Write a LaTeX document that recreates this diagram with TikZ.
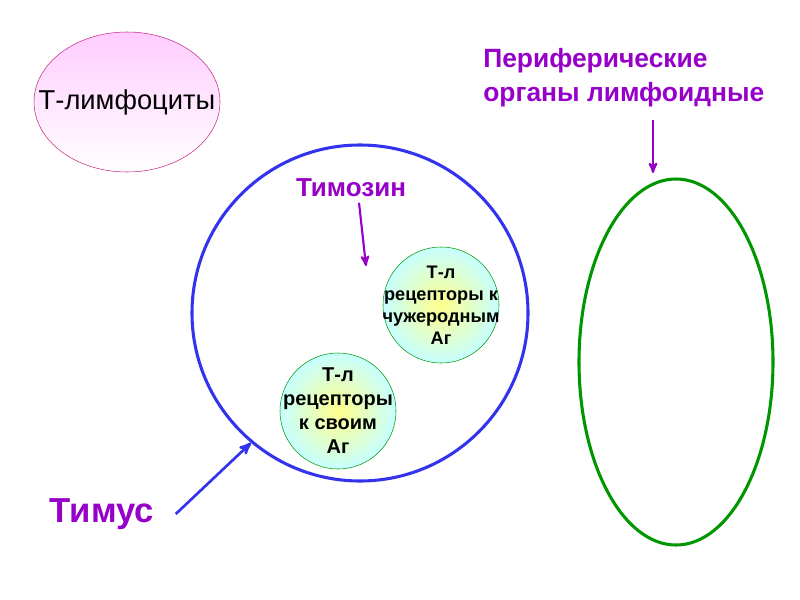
\documentclass[tikz,border=0pt]{standalone}
\usepackage{fontspec}
\setmainfont{Liberation Sans}
\usetikzlibrary{positioning,shapes,arrows}
\definecolor{lilac}{RGB}{150,0,200}
\definecolor{thyblue}{RGB}{51,51,238}
\definecolor{orggreen}{RGB}{0,150,0}
\tikzset{
        >=stealth', % arrow heads
        title/.style={text=lilac, font=\bfseries}, % violet headings
        cell/.style={circle, draw=green!60!black, thin, inner color=yellow!45, outer color=cyan!22,
                     minimum size=87pt, inner sep=0pt},
        celltext/.style={align=center, inner sep=0pt},
        pointer/.style={->, line width=1.6pt},
}
\begin{document}
\begin{tikzpicture}[x=0.75pt,y=-0.75pt]
\useasboundingbox (0,0) rectangle (800,600);
% cells
\node[ellipse, draw=magenta!80!black, thin, top color=magenta!20, bottom color=white,
      minimum width=139.5pt, minimum height=105pt, inner sep=0pt] (tcells) at (127,102) {};
\node[font=\fontsize{20.5}{25}\selectfont] at (tcells) {Т-лимфоциты};
\node[circle, draw=thyblue, line width=2.3pt, minimum size=252pt] (thymus) at (360,313) {};
\node[ellipse, draw=orggreen, line width=2.3pt, minimum width=145.5pt, minimum height=274.5pt] (periph) at (676,362) {};
\node[cell] (foreign) at (441,305) {};
\node[celltext, font=\bfseries\fontsize{13.6}{16.5}\selectfont] at (foreign) {Т-л\\рецепторы к\\чужеродным\\Аг};
\node[cell] (self) at (338,411) {};
\node[celltext, font=\bfseries\fontsize{15}{18}\selectfont] at (self) {Т-л\\рецепторы\\к своим\\Аг};
% labels
\node[title, font=\bfseries\fontsize{19.5}{23}\selectfont] (thymosin) at (351,188) {Тимозин};
\node[title, font=\bfseries\fontsize{26}{30}\selectfont] (thymuslbl) at (102,514) {Тимус};
\node[title, font=\bfseries\fontsize{19.8}{25.5}\selectfont, anchor=west, align=left, inner sep=0pt]
     (periphlbl) at (483,78) {Периферические\\органы лимфоидные};
% arrows
\coordinate (thymosintip) at (366,266);
\coordinate (periphtop) at (653,120);
\coordinate (periphtip) at (653,173);
\draw[pointer, lilac] (thymosin.south) ++(8,1) -- (thymosintip);
\draw[pointer, lilac] (periphtop) -- (periphtip);
\draw[pointer, thyblue, line width=2pt] (thymuslbl.east) ++(17,0) -- (thymus.230);
\end{tikzpicture}
\end{document}
